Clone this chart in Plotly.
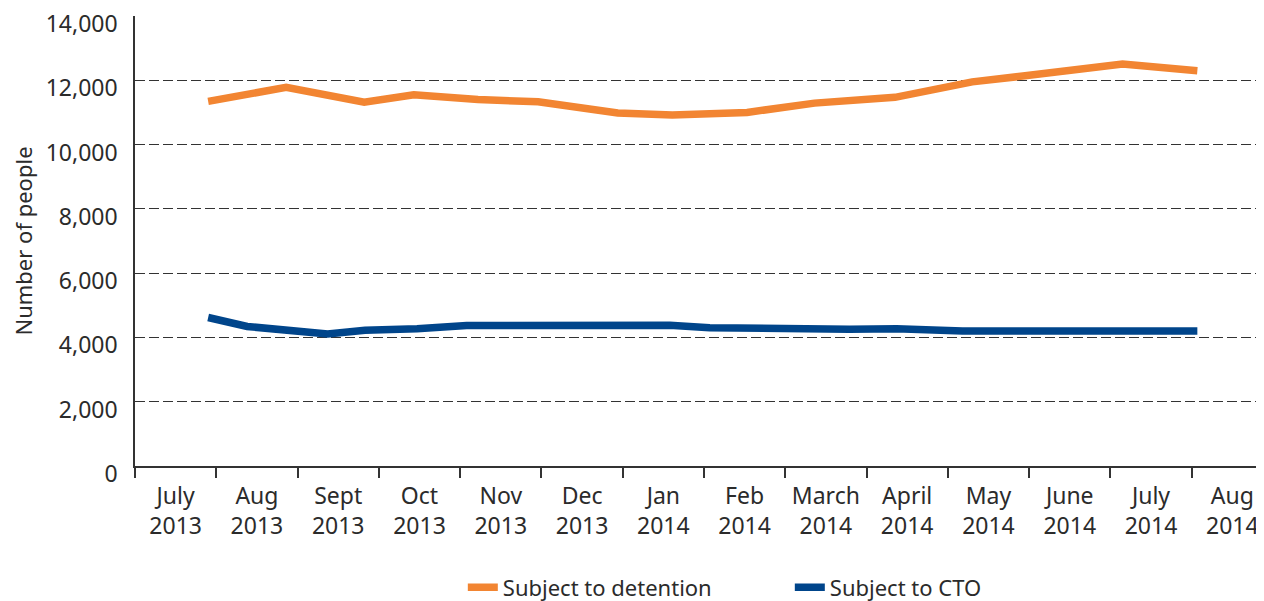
import plotly.graph_objects as go

FONT = "Noto Sans"
TEXT = "#2b2b2b"

MONTHS = ["July<br>2013", "Aug<br>2013", "Sept<br>2013", "Oct<br>2013", "Nov<br>2013",
          "Dec<br>2013", "Jan<br>2014", "Feb<br>2014", "March<br>2014", "April<br>2014",
          "May<br>2014", "June<br>2014", "July<br>2014", "Aug<br>2014"]

# position in months from the start of July 2013
DET_X = [0.90, 1.86, 2.82, 3.43, 4.22, 4.96, 5.94, 6.61, 7.53, 8.36, 9.35, 10.30, 10.95, 12.15, 13.07]
DET_Y = [11345, 11780, 11315, 11550, 11400, 11330, 10985, 10920, 11000, 11290, 11470, 11950, 12140, 12505, 12300]

CTO_X = [0.90, 1.38, 2.37, 2.83, 3.47, 4.08, 6.58, 7.07, 8.79, 9.37, 10.18, 11.22, 12.15, 13.07]
CTO_Y = [4620, 4340, 4110, 4220, 4270, 4370, 4380, 4300, 4255, 4270, 4200, 4200, 4225, 4200]

X_MAX = 13.89

fig = go.Figure()
fig.add_trace(go.Scatter(x=DET_X, y=DET_Y, mode="lines", name="Subject to detention",
                         line={"color": "#f28532", "width": 7.5}))
fig.add_trace(go.Scatter(x=CTO_X, y=CTO_Y, mode="lines", name="Subject to CTO",
                         line={"color": "#00458b", "width": 7.5}))

# the page body has an 8px margin, so the figure is sized to fit the window
fig.update_layout(
    width=1256,
    height=593,
    paper_bgcolor="white",
    plot_bgcolor="white",
    margin={"t": 7.7, "b": 135, "l": 127, "r": 0, "autoexpand": False},
    font={"family": FONT, "color": TEXT, "size": 22},
    showlegend=True,
    legend={"orientation": "h", "x": 0.580, "xanchor": "center", "y": -0.27, "yanchor": "middle",
            "font": {"size": 22}, "entrywidth": 282, "entrywidthmode": "pixels"},
    xaxis={
        "range": [0, X_MAX],
        "tickvals": list(range(14)),
        "ticktext": [""] * 14,
        "ticks": "outside",
        "ticklen": 10,
        "tickcolor": "#333",
        "tickwidth": 1.5,
        "showgrid": False,
        "showline": True,
        "linecolor": "#333",
        "linewidth": 1.5,
        "zeroline": False,
        "automargin": False,
    },
    xaxis2={
        "overlaying": "x",
        "anchor": "y",
        "side": "bottom",
        "range": [0, X_MAX],
        "tickvals": [i + 0.5 for i in range(14)],
        "ticktext": MONTHS,
        "ticks": "",
        "showgrid": False,
        "showline": False,
        "zeroline": False,
        "automargin": False,
        "ticklabelstandoff": 14,
        "ticklabeloverflow": "allow",
        "tickfont": {"size": 23, "color": TEXT},
    },
    yaxis={
        "range": [0, 14000],
        "tickvals": list(range(0, 14001, 2000)),
        "tickformat": ",d",
        "showgrid": True,
        "gridcolor": "#333",
        "gridwidth": 1.3,
        "griddash": "10px,4px",
        "showline": True,
        "linecolor": "#333",
        "linewidth": 1.5,
        "zeroline": False,
        "ticks": "",
        "automargin": False,
        "ticklabelstandoff": 11,
        "ticklabelshift": 8,
        "ticklabeloverflow": "allow",
        "tickfont": {"size": 23, "color": TEXT},
        "title": {"text": "Number of people", "font": {"size": 22, "color": TEXT}, "standoff": 12},
    },
)
# dummy trace so the label axis is drawn
fig.add_trace(go.Scatter(x=[0.5], y=[None], xaxis="x2", showlegend=False, hoverinfo="skip"))

fig.write_html("out.html")
